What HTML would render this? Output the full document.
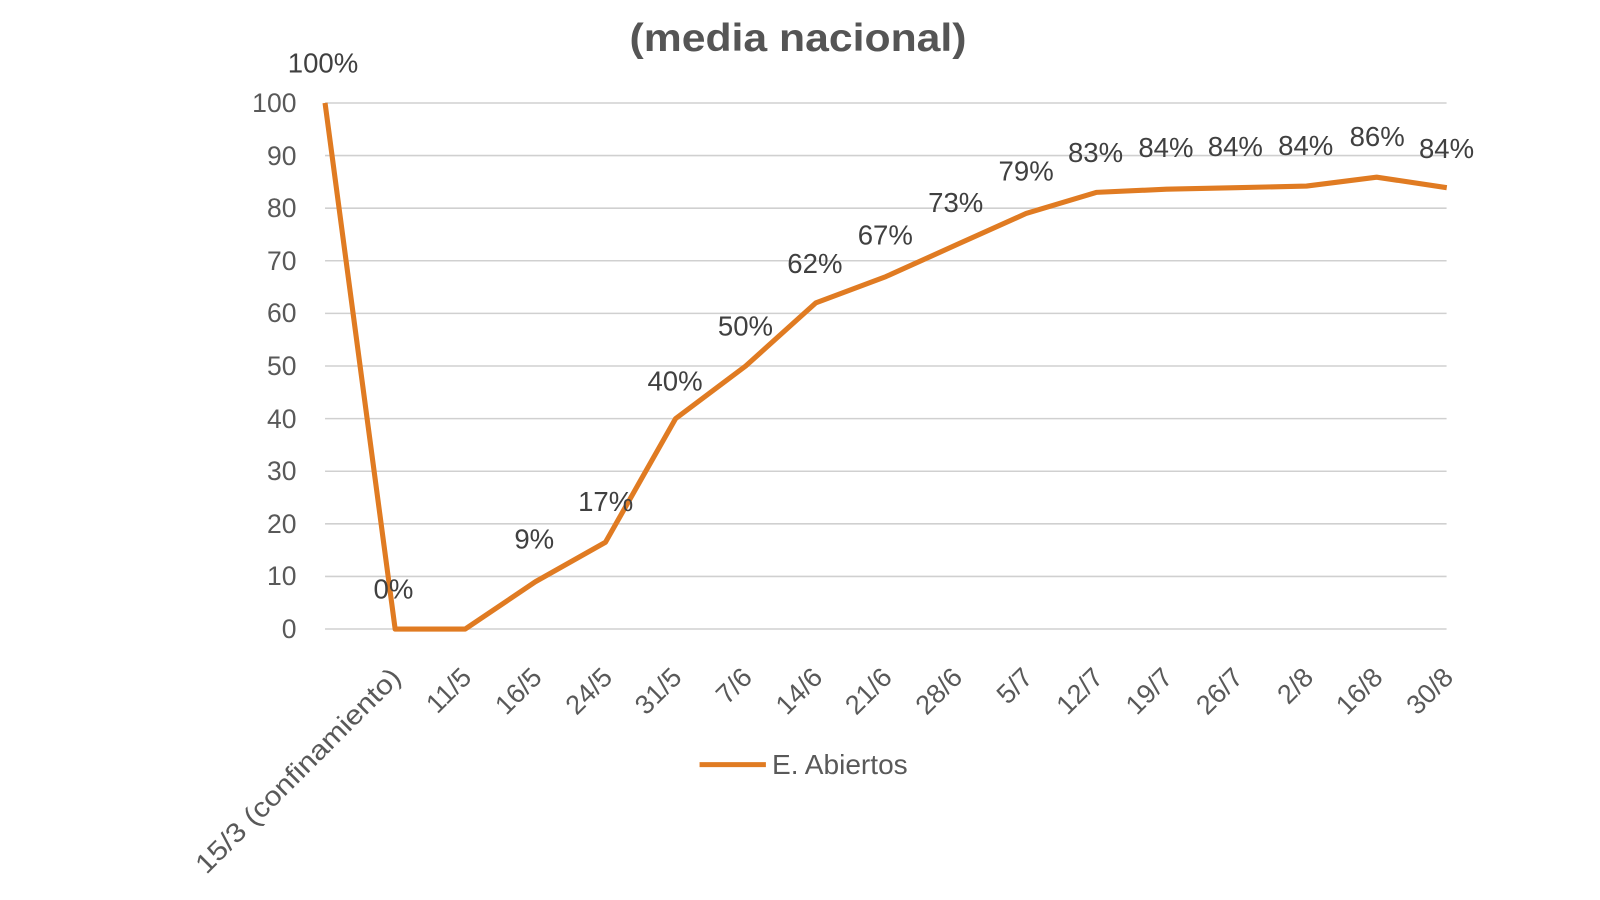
<!DOCTYPE html>
<html><head><meta charset="utf-8"><style>
html,body{margin:0;padding:0;background:#fff;}
svg{display:block;font-family:"Liberation Sans",sans-serif;}
</style></head><body>
<svg width="1600" height="900" viewBox="0 0 1600 900">
<text x="798" y="51" text-anchor="middle" font-size="39" font-weight="bold" fill="#555" textLength="337" lengthAdjust="spacingAndGlyphs">(media nacional)</text>
<g transform="matrix(1.0205,0,0,1.0195,-0.5,0)">
<g stroke="#d0d0d0" stroke-width="1.5">
<line x1="319" x2="1418" y1="101" y2="101"/><line x1="319" x2="1418" y1="152.6" y2="152.6"/>
<line x1="319" x2="1418" y1="204.2" y2="204.2"/><line x1="319" x2="1418" y1="255.8" y2="255.8"/>
<line x1="319" x2="1418" y1="307.4" y2="307.4"/><line x1="319" x2="1418" y1="359" y2="359"/>
<line x1="319" x2="1418" y1="410.6" y2="410.6"/><line x1="319" x2="1418" y1="462.2" y2="462.2"/>
<line x1="319" x2="1418" y1="513.8" y2="513.8"/><line x1="319" x2="1418" y1="565.4" y2="565.4"/>
<line x1="319" x2="1418" y1="617" y2="617"/>
</g>
<g font-size="26" fill="#595959" text-anchor="end">
<text x="291" y="110">100</text><text x="291" y="162">90</text><text x="291" y="213">80</text>
<text x="291" y="265">70</text><text x="291" y="316">60</text><text x="291" y="368">50</text>
<text x="291" y="420">40</text><text x="291" y="471">30</text><text x="291" y="523">20</text>
<text x="291" y="574">10</text><text x="291" y="626">0</text>
</g>
<polyline fill="none" stroke="#E07B22" stroke-width="5" stroke-linejoin="round" points="319,101 387.7,617 456.4,617 525.1,570.6 593.8,531.9 662.5,410.6 731.2,359 799.9,297.1 868.6,271.3 937.3,240.3 1006,209.4 1074.7,188.7 1143.4,185.6 1212.1,184.1 1280.8,182.5 1349.5,173.8 1418.2,184.1"/>
<g font-size="27" fill="#404040" text-anchor="middle">
<text x="317" y="71">100%</text><text x="386" y="587">0%</text><text x="524" y="538">9%</text>
<text x="594" y="501">17%</text><text x="662" y="383">40%</text><text x="731" y="329">50%</text>
<text x="799" y="268">62%</text><text x="868" y="240">67%</text><text x="937" y="208">73%</text>
<text x="1006" y="177">79%</text><text x="1074" y="159">83%</text><text x="1143" y="154">84%</text>
<text x="1211" y="153">84%</text><text x="1280" y="152">84%</text><text x="1350" y="143">86%</text>
<text x="1418" y="155">84%</text>
</g>
<g font-size="26.5" fill="#595959" text-anchor="end">
<text transform="translate(395,666) rotate(-45)" textLength="272" lengthAdjust="spacingAndGlyphs">15/3 (confinamiento)</text>
<text transform="translate(464,666) rotate(-45)">11/5</text>
<text transform="translate(533,666) rotate(-45)">16/5</text>
<text transform="translate(602,666) rotate(-45)">24/5</text>
<text transform="translate(670,666) rotate(-45)">31/5</text>
<text transform="translate(739,666) rotate(-45)">7/6</text>
<text transform="translate(808,666) rotate(-45)">14/6</text>
<text transform="translate(876,666) rotate(-45)">21/6</text>
<text transform="translate(945,666) rotate(-45)">28/6</text>
<text transform="translate(1014,666) rotate(-45)">5/7</text>
<text transform="translate(1083,666) rotate(-45)">12/7</text>
<text transform="translate(1151,666) rotate(-45)">19/7</text>
<text transform="translate(1220,666) rotate(-45)">26/7</text>
<text transform="translate(1289,666) rotate(-45)">2/8</text>
<text transform="translate(1357,666) rotate(-45)">16/8</text>
<text transform="translate(1426,666) rotate(-45)">30/8</text>
</g>
<line x1="686" x2="751" y1="750" y2="750" stroke="#E07B22" stroke-width="5"/>
<text x="757" y="759" font-size="27.5" fill="#595959">E. Abiertos</text>
</g>
</svg>
</body></html>
